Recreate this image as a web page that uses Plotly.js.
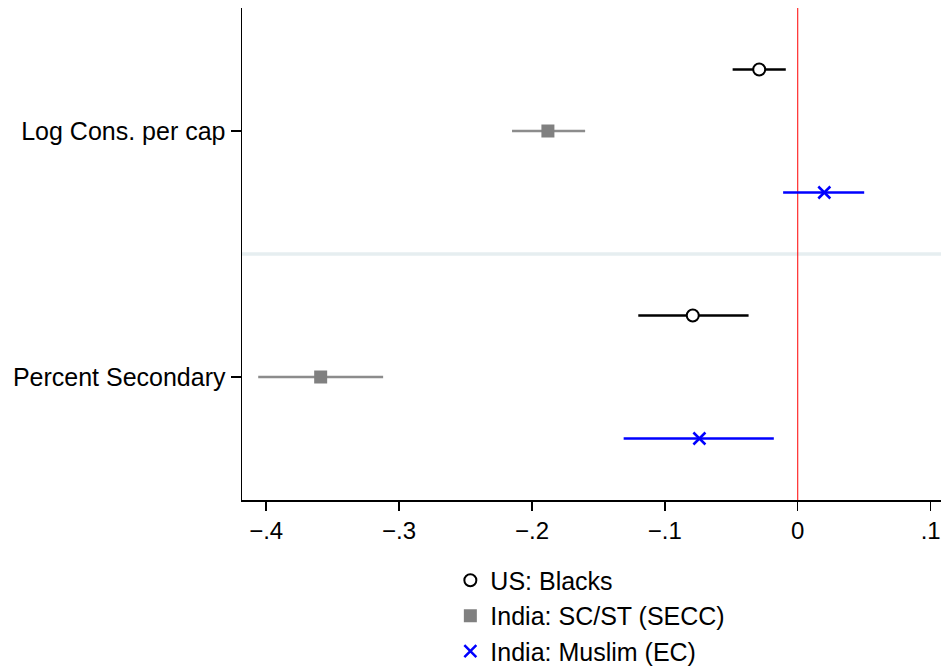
<!DOCTYPE html>
<html>
<head>
<meta charset="utf-8">
<script src="https://cdn.plot.ly/plotly-3.0.1.min.js"></script>
<style>
  html, body { margin: 0; padding: 0; background: #fff; }
  #chart { width: 942px; height: 667px; }
</style>
</head>
<body>
<div id="chart"></div>
<script>
// ---- data ----
const outcomes = ["Log Cons. per cap", "Percent Secondary"];
const outcomePos = [2, 1];
const seriesNames = ["US: Blacks", "India: SC/ST (SECC)", "India: Muslim (EC)"];
const seriesOffset = [0.25, 0, -0.25];

// point estimates and bounds, per outcome [Log Cons., Percent Secondary]
const usBlacksEst  = [-0.029, -0.079];
const usBlacksLo   = [-0.049, -0.120];
const usBlacksHi   = [-0.009, -0.037];

const scstEst      = [-0.188, -0.359];
const scstLo       = [-0.215, -0.406];
const scstHi       = [-0.160, -0.312];

const muslimEst    = [0.020, -0.074];
const muslimLo     = [-0.011, -0.131];
const muslimHi     = [0.050, -0.018];

const xTickVals = [-0.4, -0.3, -0.2, -0.1, 0, 0.1];
const xTickText = ["\u2212.4", "\u2212.3", "\u2212.2", "\u2212.1", "0", ".1"];

// ---- styles ----
const FONT = "Liberation Sans, Arial, sans-serif";
const W = 942, H = 667;
const M = { l: 241.5, r: 1, t: 8, b: 166.5 };
const plotW = W - M.l - M.r, plotH = H - M.t - M.b;

const styles = [
  { marker: { symbol: "circle", size: 12, color: "#ffffff", line: { color: "#000000", width: 2 } }, bar: "#000000" },
  { marker: { symbol: "square", size: 13, color: "#808080", line: { width: 0 } }, bar: "#8c8c8c" },
  { marker: { symbol: "x-thin", size: 12, color: "#0000ff", line: { color: "#0000ff", width: 2.5 } }, bar: "#0000ff" }
];

const ests = [usBlacksEst, scstEst, muslimEst];
const los = [usBlacksLo, scstLo, muslimLo];
const his = [usBlacksHi, scstHi, muslimHi];

const traces = seriesNames.map((name, s) => ({
  type: "scatter",
  mode: "markers",
  name: name,
  legendgroup: "g" + s,
  x: ests[s],
  y: outcomePos.map(p => p + seriesOffset[s]),
  error_x: {
    type: "data",
    symmetric: false,
    array: ests[s].map((e, i) => his[s][i] - e),
    arrayminus: ests[s].map((e, i) => e - los[s][i]),
    color: styles[s].bar,
    thickness: 2.5,
    width: 0
  },
  marker: styles[s].marker,
  hoverinfo: "x+name"
}));

const layout = {
  width: W,
  height: H,
  paper_bgcolor: "#ffffff",
  plot_bgcolor: "#ffffff",
  font: { family: FONT, color: "#000000", size: 22 },
  margin: { l: M.l, r: M.r, t: M.t, b: M.b, pad: 0, autoexpand: false },
  showlegend: true,
  legend: {
    orientation: "v",
    xref: "paper", yref: "paper",
    x: (450 - M.l) / plotW, xanchor: "left",
    y: (H - M.b - 558) / plotH, yanchor: "top",
    font: { family: FONT, size: 25, color: "#000000" },
    traceorder: "grouped",
    tracegroupgap: 0,
    bgcolor: "rgba(0,0,0,0)",
    borderwidth: 0
  },
  xaxis: {
    range: [-0.4182, 0.1078],
    tickmode: "array",
    tickvals: xTickVals,
    ticktext: xTickText,
    ticks: "outside",
    ticklen: 9,
    tickwidth: 1.5,
    tickcolor: "#000000",
    showline: true,
    linecolor: "#000000",
    linewidth: 1.5,
    showgrid: false,
    zeroline: false,
    automargin: false,
    tickfont: { family: FONT, size: 24, color: "#000000" }
  },
  yaxis: {
    range: [0.5, 2.5],
    tickmode: "array",
    tickvals: outcomePos,
    ticktext: outcomes,
    ticks: "outside",
    ticklen: 10,
    tickwidth: 1.5,
    tickcolor: "#000000",
    showline: true,
    linecolor: "#000000",
    linewidth: 1.5,
    showgrid: false,
    zeroline: false,
    automargin: false,
    tickfont: { family: FONT, size: 25, color: "#000000" }
  },
  shapes: [
    { type: "line", xref: "paper", yref: "y", x0: 0, x1: 1, y0: 1.5, y1: 1.5,
      line: { color: "#e6eef0", width: 3.5 }, layer: "below" },
    { type: "line", xref: "x", yref: "paper", x0: 0, x1: 0, y0: 0, y1: 1,
      line: { color: "#ff0000", width: 1 }, layer: "below" }
  ]
};

Plotly.newPlot("chart", traces, layout, { displayModeBar: false, staticPlot: true });
</script>
</body>
</html>
